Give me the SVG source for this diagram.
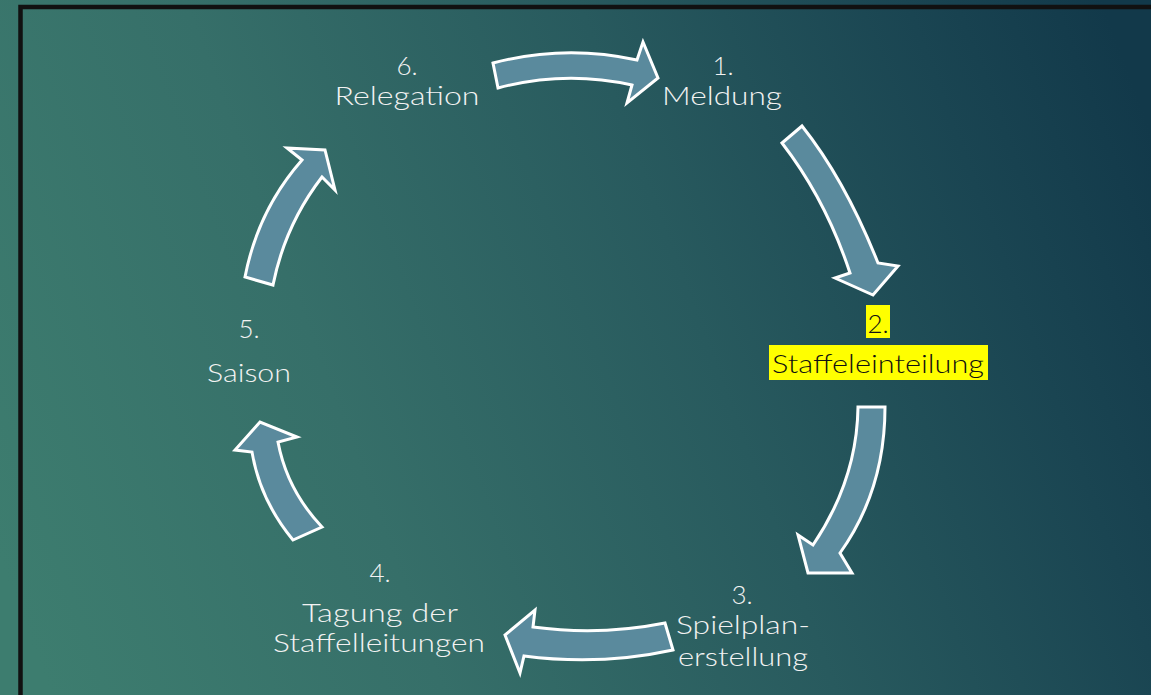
<svg xmlns="http://www.w3.org/2000/svg" width="1151" height="695" viewBox="0 0 1151 695">
  <defs>
    <linearGradient id="bg" x1="0" y1="560" x2="1151" y2="130" gradientUnits="userSpaceOnUse">
      <stop offset="0" stop-color="#3d7d6f"/>
      <stop offset="0.3" stop-color="#366f69"/>
      <stop offset="0.6" stop-color="#285a5e"/>
      <stop offset="0.85" stop-color="#1a4552"/>
      <stop offset="1" stop-color="#12394a"/>
    </linearGradient>
    <style>
      .arrow { fill: #5a8a9d; stroke: #ffffff; stroke-width: 3; stroke-linejoin: miter; }
      .lbl { font-family: "Lato", "Liberation Sans", sans-serif; font-weight: 300; font-size: 26px; fill: #f2f2f2; text-anchor: middle; }
      .hl { fill: #ffff00; }
      .dark { fill: #111111; }
    </style>
  </defs>

  <rect width="1151" height="695" fill="url(#bg)"/>
  <!-- frame edges -->
  <path d="M20.5 695 V7 H1151" fill="none" stroke="#111111" stroke-width="4.5"/>

  <g id="connectors">
    <!-- 6 -> 1 -->
    <path class="arrow" d="M493 63 Q565 44 637 60 L643 42 L658 78 L627 103 L632 85 Q565 70 498 88 Z"/>
    <!-- 1 -> 2 -->
    <path class="arrow" d="M782 143 L802 126 Q845 180 878 263 L898 266 L873 295 L835 278 L850 273 Q826 200 782 143 Z"/>
    <!-- 2 -> 3 -->
    <path class="arrow" d="M858 407 L885 407 Q885 490 840 553 L852 573 L808 573 L798 535 L813 545 Q857 480 858 407 Z"/>
    <!-- 3 -> 4 -->
    <path class="arrow" d="M665 623 Q600 636 533 627 L535 610 L505 635 L520 673 L524 656 Q600 666 673 650 Z"/>
    <!-- 4 -> 5 -->
    <path class="arrow" d="M293 540 Q260 500 252 452 L235 450 L260 422 L297 437 L278 442 Q287 490 322 527 Z"/>
    <!-- 5 -> 6 -->
    <path class="arrow" d="M245 277 Q258 210 302 160 L287 148 L325 150 L335 190 L322 177 Q285 225 273 285 Z"/>
  </g>

  <g id="node1">
    <text class="lbl" x="723" y="75">1.</text>
    <text class="lbl" x="722" y="105" textLength="120" lengthAdjust="spacingAndGlyphs">Meldung</text>
  </g>

  <g id="node2">
    <rect class="hl" x="866" y="305" width="24" height="33"/>
    <text class="lbl dark" x="878" y="333">2.</text>
    <rect class="hl" x="769" y="345" width="219" height="35"/>
    <text class="lbl dark" x="878" y="373" textLength="212" lengthAdjust="spacingAndGlyphs">Staffeleinteilung</text>
  </g>

  <g id="node3">
    <text class="lbl" x="742" y="604">3.</text>
    <text class="lbl" x="743" y="634" textLength="134" lengthAdjust="spacingAndGlyphs">Spielplan-</text>
    <text class="lbl" x="743" y="666" textLength="130" lengthAdjust="spacingAndGlyphs">erstellung</text>
  </g>

  <g id="node4">
    <text class="lbl" x="380" y="582">4.</text>
    <text class="lbl" x="380" y="622" textLength="156" lengthAdjust="spacingAndGlyphs">Tagung der</text>
    <text class="lbl" x="379" y="652" textLength="212" lengthAdjust="spacingAndGlyphs">Staffelleitungen</text>
  </g>

  <g id="node5">
    <text class="lbl" x="249" y="338">5.</text>
    <text class="lbl" x="249" y="382" textLength="84" lengthAdjust="spacingAndGlyphs">Saison</text>
  </g>

  <g id="node6">
    <text class="lbl" x="407" y="75">6.</text>
    <text class="lbl" x="407" y="105" textLength="145" lengthAdjust="spacingAndGlyphs">Relegation</text>
  </g>
</svg>
